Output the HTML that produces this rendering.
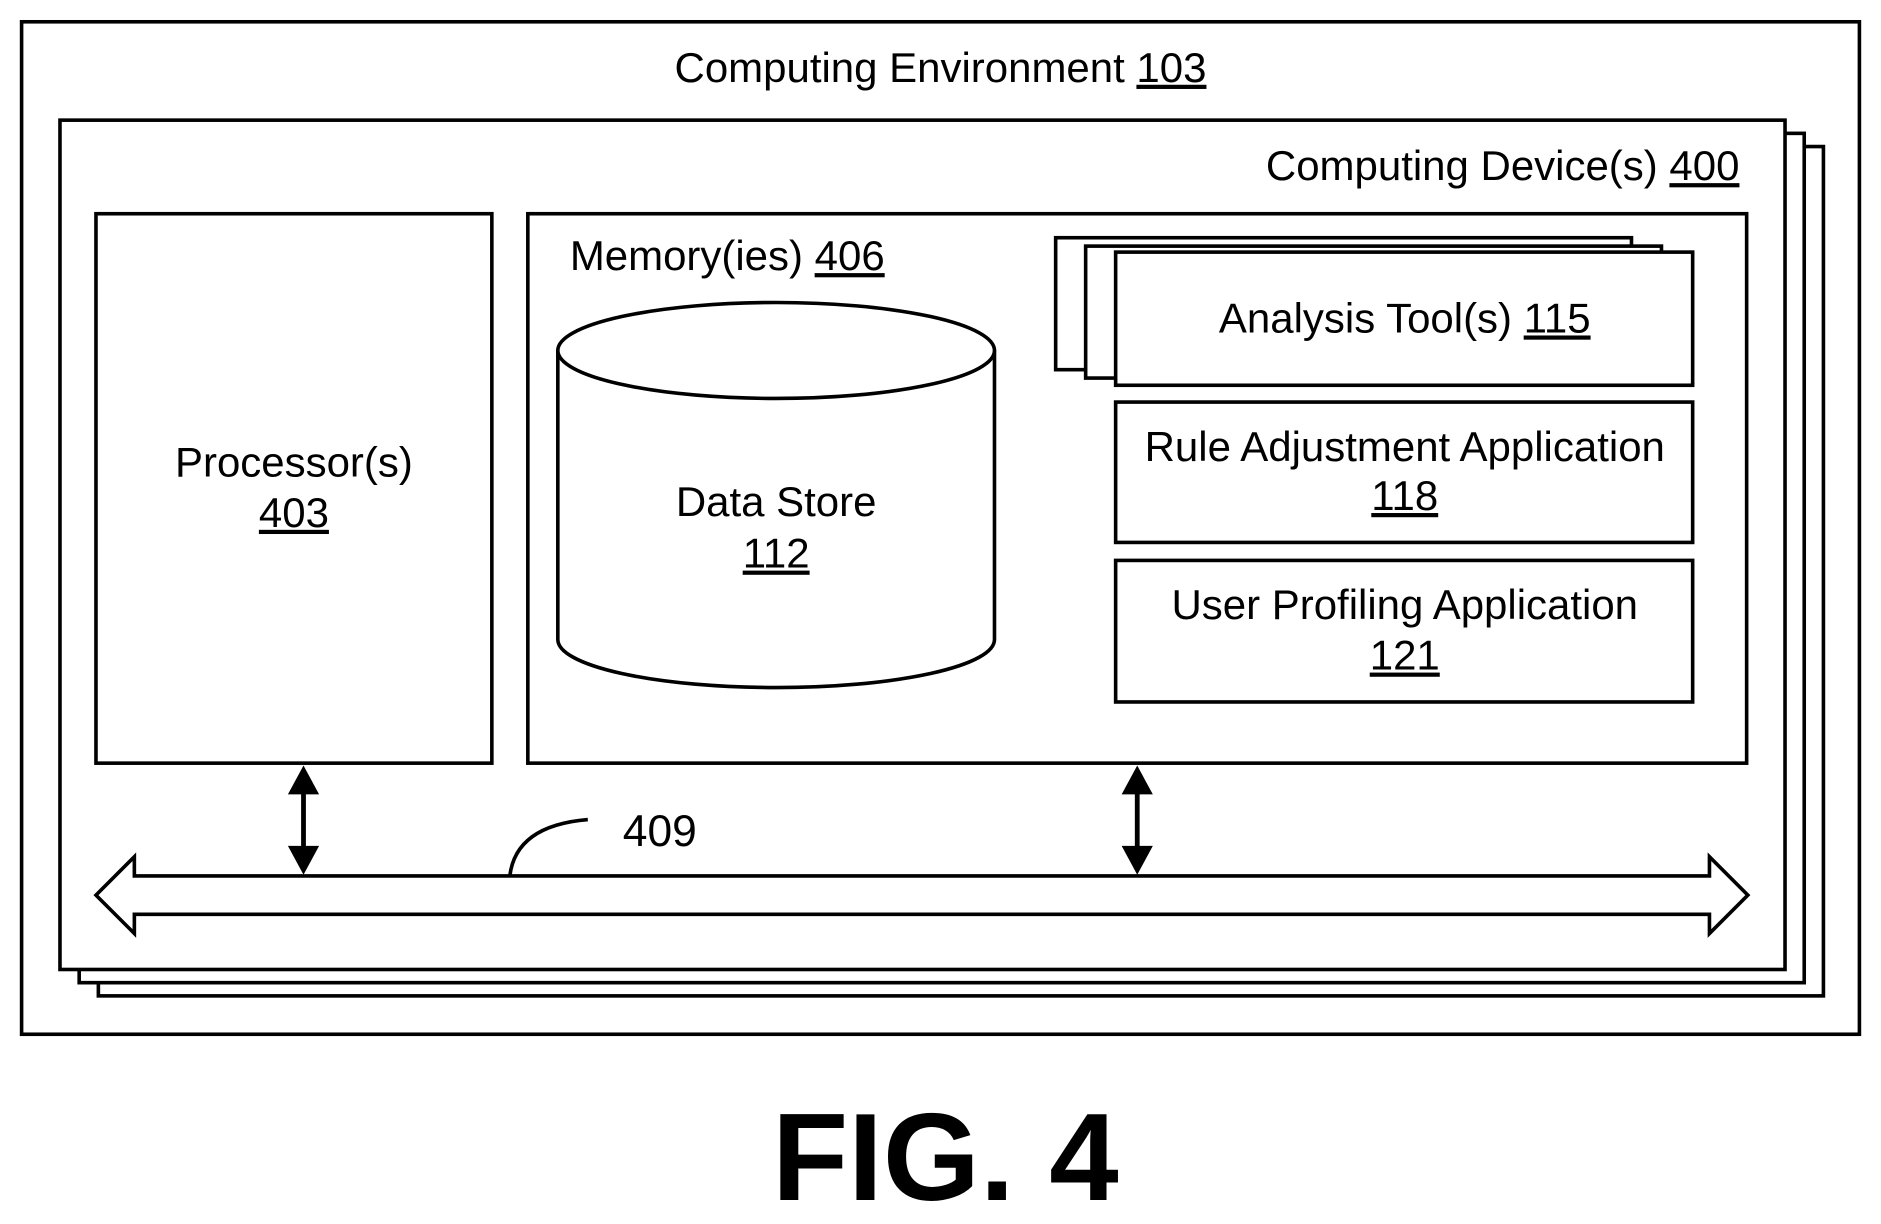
<!DOCTYPE html>
<html><head><style>html,body{margin:0;padding:0;background:#fff}svg{display:block}</style></head>
<body>
<svg width="1881" height="1224" viewBox="0 0 1568 1020" xmlns="http://www.w3.org/2000/svg" font-family="Liberation Sans, Arial, sans-serif">
<g fill="#fff" stroke="#000" stroke-width="3">
<rect x="18" y="18" width="1532" height="844"/>
<rect x="82" y="122" width="1438" height="708"/>
<rect x="66" y="111" width="1438" height="708"/>
<rect x="50" y="100" width="1438" height="708"/>
<rect x="80" y="178" width="330" height="458"/>
<rect x="440" y="178" width="1016" height="458"/>
<rect x="880" y="198" width="480" height="110"/>
<rect x="905" y="205" width="480" height="110"/>
<rect x="930" y="210" width="481" height="111"/>
<rect x="930" y="335" width="481" height="117"/>
<rect x="930" y="467" width="481" height="118"/>
<path d="M465,292 L465,533 A182,40 0 0 0 829,533 L829,292"/>
<ellipse cx="647" cy="292" rx="182" ry="40"/>
<path d="M80,746 L112,714 L112,730 L1425,730 L1425,714 L1457,746 L1425,778 L1425,762 L112,762 L112,778 Z"/>
<path d="M425,730 Q430,688 490,683" fill="none"/>
</g>
<g stroke="#000" stroke-width="4" fill="#000">
<line x1="253" y1="650" x2="253" y2="716"/>
<polygon points="253,638 240,662 266,662" stroke="none"/>
<polygon points="253,729 240,705 266,705" stroke="none"/>
<line x1="948" y1="650" x2="948" y2="716"/>
<polygon points="948,638 935,662 961,662" stroke="none"/>
<polygon points="948,729 935,705 961,705" stroke="none"/>
</g>
<g font-size="35" fill="#000" text-anchor="middle">
<text x="784" y="68">Computing Environment <tspan text-decoration="underline">103</tspan></text>
<text x="1450" y="150" text-anchor="end">Computing Device(s) <tspan text-decoration="underline">400</tspan></text>
<text x="245" y="397">Processor(s)</text>
<text x="245" y="439" text-decoration="underline">403</text>
<text x="475" y="225" text-anchor="start">Memory(ies) <tspan text-decoration="underline">406</tspan></text>
<text x="647" y="430">Data Store</text>
<text x="647" y="473" text-decoration="underline">112</text>
<text x="1171" y="277">Analysis Tool(s) <tspan text-decoration="underline">115</tspan></text>
<text x="1171" y="384">Rule Adjustment Application</text>
<text x="1171" y="425" text-decoration="underline">118</text>
<text x="1171" y="516">User Profiling Application</text>
<text x="1171" y="558" text-decoration="underline">121</text>
<text x="550" y="705" font-size="37">409</text>
<text x="788" y="1000" font-size="104" font-weight="bold">FIG. 4</text>
</g>
</svg>
</body></html>
